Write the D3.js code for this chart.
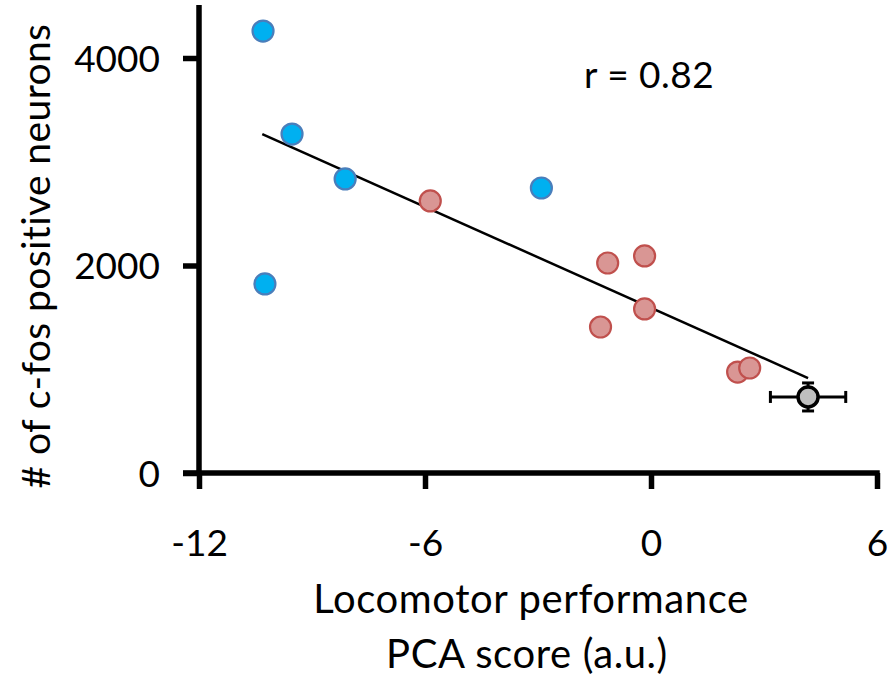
<!DOCTYPE html>
<html>
<head>
<meta charset="utf-8">
<script src="https://cdn.jsdelivr.net/npm/d3@7"></script>
<style>
  html, body { margin: 0; padding: 0; background: #fff; }
  svg text { font-family: Lato, "Open Sans", sans-serif; fill: #000; }
</style>
</head>
<body>
<svg id="chart" width="891" height="680"></svg>
<script>
// Locomotor PCA score vs. number of c-fos positive neurons
const groupA = { x: [-10.30, -9.53, -8.12, -2.91, -10.25],
                 y: [4260, 3267, 2834, 2747, 1822] };
const groupB = { x: [-5.86, -1.15, -0.17, -1.34, -0.17, 2.30, 2.62],
                 y: [2622, 2024, 2092, 1407, 1581, 973, 1012] };
const meanPoint = { x: 4.17, y: 733, xErr: 1.0, yErr: 135 };

const fitX = [-10.32, 4.17];
const fitSlope = -162.3;
const fitIntercept = 1592;
const rLabel = "r = 0.82";

const xTicks = [-12, -6, 0, 6];
const yTicks = [0, 2000, 4000];
const xTitle = ["Locomotor performance", "PCA score (a.u.)"];
const yTitle = "# of c-fos positive neurons";

const svg = d3.select("#chart");

const x = d3.scaleLinear().domain([-12, 6]).range([199, 877]);
const y = d3.scaleLinear().domain([0, 4000]).range([473, 58]);
const yTop = 4510;

const axisColor = "#000";
const axisWidth = 5.5;

// X axis
const gx = svg.append("g").attr("transform", `translate(0,${y(0)})`)
  .call(d3.axisBottom(x).tickValues(xTicks).tickSize(16).tickSizeOuter(0)
        .tickPadding(40).tickFormat(d3.format("d")));
gx.select(".domain").attr("stroke", axisColor).attr("stroke-width", axisWidth)
  .attr("d", `M${x(-12) - 16},0H${x(6) + axisWidth / 2}`);
gx.selectAll(".tick line").attr("stroke", axisColor).attr("stroke-width", axisWidth);
gx.selectAll(".tick text").attr("font-size", 37).attr("dy", 0)
  .attr("dominant-baseline", "alphabetic").attr("y", 556 - y(0))
  .text(d => d < 0 ? "-" + Math.abs(d) : d);

// Y axis
const gy = svg.append("g").attr("transform", `translate(${x(-12)},0)`)
  .call(d3.axisLeft(y).tickValues(yTicks).tickSize(16).tickSizeOuter(0)
        .tickPadding(23).tickFormat(d3.format("d")));
gy.select(".domain").attr("stroke", axisColor).attr("stroke-width", axisWidth)
  .attr("d", `M0,${y(yTop)}V${y(0) + axisWidth / 2}`);
gy.selectAll(".tick line").attr("stroke", axisColor).attr("stroke-width", axisWidth);
gy.selectAll(".tick text").attr("font-size", 37).attr("dy", "0.36em");

// Regression line
svg.append("line")
  .attr("x1", x(fitX[0])).attr("y1", y(fitIntercept + fitSlope * fitX[0]))
  .attr("x2", x(fitX[1])).attr("y2", y(fitIntercept + fitSlope * fitX[1]))
  .attr("stroke", "#000").attr("stroke-width", 2.5);

// Group points
function drawGroup(g, fill, stroke) {
  svg.append("g").selectAll("circle")
    .data(g.x.map((v, i) => [v, g.y[i]]))
    .join("circle")
    .attr("cx", d => x(d[0])).attr("cy", d => y(d[1]))
    .attr("r", 10.5)
    .attr("fill", fill).attr("stroke", stroke).attr("stroke-width", 2.2);
}
drawGroup(groupA, "#00B0F0", "#4A7EBB");
drawGroup(groupB, "#D99694", "#C0504D");

// Mean point with error bars
const em = svg.append("g").attr("stroke", "#000").attr("stroke-width", 3);
const mx = x(meanPoint.x), my = y(meanPoint.y);
const capH = 6;
em.append("line").attr("x1", x(meanPoint.x - meanPoint.xErr)).attr("x2", x(meanPoint.x + meanPoint.xErr))
  .attr("y1", my).attr("y2", my);
[meanPoint.x - meanPoint.xErr, meanPoint.x + meanPoint.xErr].forEach(v => {
  em.append("line").attr("x1", x(v)).attr("x2", x(v)).attr("y1", my - capH).attr("y2", my + capH);
});
em.append("line").attr("x1", mx).attr("x2", mx)
  .attr("y1", y(meanPoint.y - meanPoint.yErr)).attr("y2", y(meanPoint.y + meanPoint.yErr));
[meanPoint.y - meanPoint.yErr, meanPoint.y + meanPoint.yErr].forEach(v => {
  em.append("line").attr("x1", mx - capH).attr("x2", mx + capH).attr("y1", y(v)).attr("y2", y(v));
});
svg.append("circle").attr("cx", mx).attr("cy", my).attr("r", 10)
  .attr("fill", "#BFBFBF").attr("stroke", "#000").attr("stroke-width", 3.5);

// Correlation label
svg.append("text").attr("x", 584).attr("y", 88).attr("font-size", 37)
  .attr("letter-spacing", 0.5).text(rLabel);

// Axis titles
svg.append("text").attr("x", 531).attr("y", 613).attr("text-anchor", "middle")
  .attr("font-size", 40).attr("letter-spacing", 0.6).text(xTitle[0]);
svg.append("text").attr("x", 527).attr("y", 668).attr("text-anchor", "middle")
  .attr("font-size", 40).attr("letter-spacing", 0.6).text(xTitle[1]);
svg.append("text").attr("transform", "translate(50,256) rotate(-90)")
  .attr("text-anchor", "middle").attr("font-size", 39).attr("letter-spacing", 0.4)
  .text(yTitle);
</script>
</body>
</html>
